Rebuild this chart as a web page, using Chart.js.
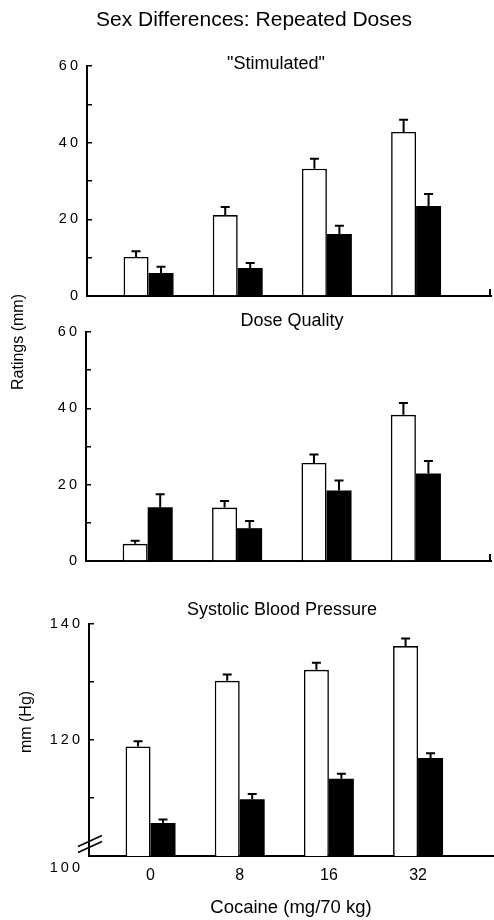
<!DOCTYPE html>
<html><head><meta charset="utf-8">
<script src="https://cdn.jsdelivr.net/npm/chart.js@4"></script>
<style>
html,body{margin:0;padding:0;background:#fff;}
#wrap{position:relative;width:494px;height:920px;overflow:hidden;}
canvas{position:absolute;left:0;}
</style></head><body>
<div id="wrap">
<canvas id="c1" width="494" height="300" style="top:0px"></canvas>
<canvas id="c2" width="494" height="310" style="top:280px"></canvas>
<canvas id="c3" width="494" height="330" style="top:590px"></canvas>
</div>
<script>
// ---- data ----
const doses = ['0', '8', '16', '32'];
const stimOpen = [10.2, 21.1, 33.2, 42.8];
const stimOpenErr = [1.5, 2.1, 2.6, 3.2];
const stimFilled = [6.0, 7.3, 16.2, 23.5];
const stimFilledErr = [1.6, 1.3, 2.1, 3.1];
const qualOpen = [4.5, 14.0, 25.7, 38.3];
const qualOpenErr = [0.8, 1.7, 2.2, 3.1];
const qualFilled = [14.1, 8.6, 18.5, 22.9];
const qualFilledErr = [3.4, 1.9, 2.6, 3.3];
const sbpOpen = [118.9, 130.2, 132.1, 136.2];
const sbpOpenErr = [0.9, 1.1, 1.2, 1.3];
const sbpFilled = [105.7, 109.8, 113.3, 116.9];
const sbpFilledErr = [0.6, 0.9, 0.9, 0.8];
const ratingTickLabels = [0, 20, 40, 60];
const sbpTickLabels = [100, 120, 140];

const FONT = "'Liberation Sans', Arial, Helvetica, sans-serif";

function drawText(ctx, s, x, y, o) {
  ctx.save();
  ctx.font = o.font;
  ctx.fillStyle = '#000';
  ctx.textAlign = o.align || 'center';
  ctx.textBaseline = 'middle';
  const ls = o.ls || 0;
  if (ls) ctx.letterSpacing = ls + 'px';
  ctx.translate(x, y);
  if (o.rot) ctx.rotate(o.rot);
  let dx = 0;
  if (ls) { if (ctx.textAlign === 'right') dx = ls; else if (ctx.textAlign === 'center') dx = ls / 2; }
  ctx.fillText(s, dx, 0);
  ctx.restore();
}

const panelPlugin = {
  id: 'panel',
  afterDatasetsDraw(chart, args, o) {
    const ctx = chart.ctx, ys = chart.scales.y;
    chart.data.datasets.forEach((ds, di) => {
      const meta = chart.getDatasetMeta(di);
      meta.data.forEach((bar, i) => {
        const top = ys.getPixelForValue(ds.data[i].y + ds.err[i]);
        ctx.save();
        ctx.strokeStyle = '#000';
        ctx.lineWidth = 2;
        ctx.beginPath();
        ctx.moveTo(bar.x, bar.y);
        ctx.lineTo(bar.x, top);
        ctx.moveTo(bar.x - 4.5, top);
        ctx.lineTo(bar.x + 4.5, top);
        ctx.stroke();
        ctx.restore();
      });
    });
  },
  afterDraw(chart, args, o) {
    const ctx = chart.ctx, ys = chart.scales.y, ca = chart.chartArea;
    (o.yLabels || []).forEach(v => {
      const off = (o.labelOffsets && o.labelOffsets[v]) || 0;
      drawText(ctx, String(v), o.labelX, ys.getPixelForValue(v) + off,
        {font: '14.5px ' + FONT, align: 'right', ls: 3});
    });
    (o.texts || []).forEach(t => drawText(ctx, t.text, t.x, t.y, t));
    ctx.save();
    ctx.strokeStyle = '#000';
    ctx.lineWidth = 2;
    if (o.endTick) {
      ctx.beginPath();
      ctx.moveTo(ca.right - 1, ca.bottom);
      ctx.lineTo(ca.right - 1, ca.bottom - 7);
      ctx.stroke();
    }
    if (o.breakAt !== undefined) {
      const p = ys.getPixelForValue(o.breakAt), ax = ca.left;
      ctx.lineWidth = 1.6;
      ctx.beginPath();
      ctx.moveTo(ax - 11, p + 8); ctx.lineTo(ax + 13, p - 3);
      ctx.moveTo(ax - 11, p + 2); ctx.lineTo(ax + 13, p - 9);
      ctx.stroke();
    }
    ctx.restore();
  }
};

function makeChart(id, c) {
  const toPts = arr => arr.map((v, i) => ({x: i + 1, y: v}));
  return new Chart(document.getElementById(id), {
    type: 'bar',
    data: {
      datasets: [
        {label: 'Open bars', data: toPts(c.open), err: c.openErr, backgroundColor: '#fff',
         borderColor: '#000', borderWidth: 1.6, categoryPercentage: 0.56, barPercentage: 1},
        {label: 'Filled bars', data: toPts(c.filled), err: c.filledErr, backgroundColor: '#000',
         borderColor: '#000', borderWidth: 0, categoryPercentage: 0.56, barPercentage: 1}
      ]
    },
    options: {
      responsive: false, animation: false, devicePixelRatio: 1,
      layout: {padding: c.padding},
      plugins: {legend: {display: false}, tooltip: {enabled: false}, title: {display: false}, panel: c.panel},
      scales: {
        x: {
          type: 'linear', min: 0.31, max: 4.84, offset: false,
          grid: {display: false, drawTicks: false},
          border: {display: true, color: '#000', width: 2},
          afterBuildTicks: s => { s.ticks = doses.map((d, i) => ({value: i + 1})); },
          ticks: {display: !!c.xLabels, autoSkip: false, maxRotation: 0, color: '#000',
                  padding: 10, font: {family: FONT, size: 16},
                  callback: (v, i) => doses[i]},
          title: {display: !!c.xLabels, text: 'Cocaine (mg/70 kg)', color: '#000',
                  font: {family: FONT, size: 18.5}, padding: {top: 0, bottom: 1}},
          afterFit: s => { s.height = c.xHeight; }
        },
        y: {
          min: c.min, max: c.max,
          ticks: {display: false, stepSize: 10},
          grid: {display: true, drawOnChartArea: false, drawTicks: true, tickLength: -5, color: '#000', lineWidth: 1.5},
          border: {display: true, color: '#000', width: 2},
          afterFit: s => { s.width = c.yWidth; }
        }
      }
    },
    plugins: [panelPlugin]
  });
}

makeChart('c1', {
  open: stimOpen, openErr: stimOpenErr, filled: stimFilled, filledErr: stimFilledErr,
  min: 0, max: 60, yWidth: 87, xHeight: 4,
  padding: {top: 66, right: 3, bottom: 0, left: 0},
  panel: {
    yLabels: ratingTickLabels, labelX: 78, endTick: true,
    texts: [
      {text: 'Sex Differences: Repeated Doses', x: 254, y: 20, font: '21px ' + FONT},
      {text: '"Stimulated"', x: 276, y: 64, font: '18px ' + FONT}
    ]
  }
});

makeChart('c2', {
  open: qualOpen, openErr: qualOpenErr, filled: qualFilled, filledErr: qualFilledErr,
  min: 0, max: 60, yWidth: 86, xHeight: 4,
  padding: {top: 52, right: 3, bottom: 25, left: 0},
  panel: {
    yLabels: ratingTickLabels, labelX: 77, endTick: true,
    texts: [
      {text: 'Dose Quality', x: 292, y: 41, font: '18px ' + FONT},
      {text: 'Ratings (mm)', x: 19, y: 62, font: '16px ' + FONT, rot: -Math.PI / 2}
    ]
  }
});

makeChart('c3', {
  open: sbpOpen, openErr: sbpOpenErr, filled: sbpFilled, filledErr: sbpFilledErr,
  min: 100, max: 140, yWidth: 89, xHeight: 64, xLabels: true,
  padding: {top: 34, right: 1, bottom: 0, left: 0},
  panel: {
    yLabels: sbpTickLabels, labelX: 80, labelOffsets: {100: 12}, breakAt: 102,
    texts: [
      {text: 'Systolic Blood Pressure', x: 282, y: 20, font: '18px ' + FONT},
      {text: 'mm (Hg)', x: 27, y: 132, font: '16px ' + FONT, rot: -Math.PI / 2}
    ]
  }
});
</script>
</body></html>
